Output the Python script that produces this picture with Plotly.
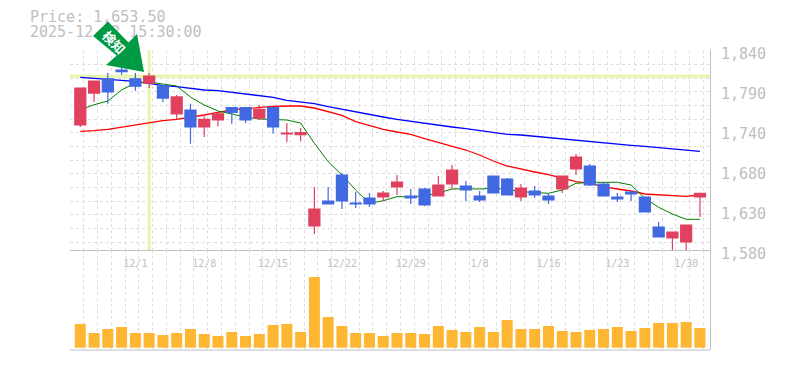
import plotly.graph_objects as go

INDEX = list(range(46))
TICK_POS = [4, 9, 14, 19, 24, 29, 34, 39, 44]
TICK_LABELS = ["12/1", "12/8", "12/15", "12/22", "12/29", "1/8", "1/16", "1/23", "1/30"]
PRICE_TICKS = [1840, 1788, 1736, 1684, 1632, 1580]
PRICE_LABELS = ["1,840", "1,790", "1,740", "1,680", "1,630", "1,580"]

OPEN = [1742.5, 1784, 1802.5, 1814, 1802.5, 1797, 1793, 1757, 1762, 1740, 1749, 1765, 1765, 1751.5, 1765, 1731,
        1730, 1611.2, 1643.7, 1677.5, 1641.1, 1647.6, 1648.9, 1661.9, 1650.2, 1659.3, 1650.2, 1665.8, 1663.2, 1650.2,
        1676.2, 1672.3, 1648.9, 1656.7, 1650.2, 1659.3, 1685.3, 1689.2, 1665.8, 1648.9, 1655.4, 1648.9, 1609.9,
        1595.6, 1590.4, 1648.9]
HIGH = [1790.6, 1799.7, 1810, 1819, 1810, 1810, 1794.5, 1781.5, 1770, 1754, 1759, 1765, 1765, 1768.5, 1765, 1745,
        1738.5, 1661.9, 1661.9, 1680.1, 1655.4, 1654.1, 1656.7, 1677.5, 1659.3, 1660.6, 1676.2, 1690.5, 1669.7, 1656.7,
        1676.2, 1673.6, 1665.8, 1663.2, 1654.1, 1676.2, 1704.8, 1691.8, 1668.4, 1654.1, 1656.7, 1648.9, 1616.4,
        1603.4, 1612.5, 1653.5]
LOW = [1739.9, 1772.4, 1770, 1807.5, 1787, 1790.5, 1772.5, 1750, 1718, 1727, 1741, 1744, 1745, 1749, 1731, 1720,
       1721.5, 1600.8, 1639.8, 1633.3, 1634.6, 1635.9, 1643.7, 1651.5, 1639.8, 1637.2, 1650.2, 1659.3, 1643.7, 1642.4,
       1654.1, 1651.5, 1643.7, 1647.6, 1639.8, 1654.1, 1677.5, 1663.2, 1650.2, 1642.4, 1643.7, 1629.4, 1596.9,
       1578.7, 1578.7, 1622.9]
CLOSE = [1790.6, 1799.7, 1785.5, 1812, 1793, 1806, 1777.5, 1779, 1740, 1750, 1757, 1759, 1749, 1763, 1740, 1732,
         1732.5, 1633.3, 1639.8, 1643.7, 1639.8, 1639.8, 1654.1, 1668.4, 1647.6, 1638.5, 1664.5, 1684, 1658, 1645,
         1654.1, 1651.5, 1660.6, 1651.5, 1645, 1676.2, 1700.9, 1664.5, 1650.2, 1646.3, 1652.8, 1629.4, 1596.9,
         1603.4, 1612.5, 1653.5]
MA_BLUE = [1804.5, 1803.2, 1801, 1800.1, 1799.3, 1796.7, 1793.6, 1792.3, 1789.7, 1788, 1787.1, 1785, 1783.2, 1781.1,
           1778.5, 1774.6, 1772.8, 1770.2, 1766.3, 1762.9, 1759.4, 1755.5, 1752.9, 1749.9, 1747.3, 1744.7, 1741.6,
           1739.9, 1737.7, 1735.1, 1733, 1730.4, 1729.5, 1727.8, 1726, 1723.9, 1723, 1721.3, 1719.5, 1717.4, 1716.1,
           1714.8, 1713, 1711.7, 1710, 1708.3]
MA_RED = [1734.3, 1735.1, 1736.9, 1739.9, 1742.1, 1746, 1748.1, 1749.9, 1752.5, 1755.5, 1759, 1762, 1763.7, 1765.5,
          1766.8, 1767.2, 1767.2, 1764.6, 1760.3, 1755.1, 1746.8, 1741.6, 1736.9, 1733.4, 1730.4, 1724.7, 1719.5,
          1714.3, 1710, 1703.5, 1695.7, 1689.2, 1684.9, 1681.4, 1677.9, 1673.2, 1668.8, 1666.7, 1662.3, 1659.3,
          1656.7, 1652.8, 1651.5, 1650.6, 1649.8, 1651.5]
MA_GREEN = [1762, 1768.9, 1773.7, 1788, 1797.1, 1798.4, 1795.8, 1793.2, 1778.9, 1768.5, 1760.7, 1756.8, 1752.9, 1750.3,
            1749.7, 1749, 1745.1, 1718.7, 1694.8, 1677.5, 1658, 1640.7, 1644.1, 1649.3, 1649.3, 1650.2, 1654.1, 1659.3,
            1659.7, 1659.3, 1660.2, 1658.9, 1655.8, 1654.5, 1653.7, 1658, 1666.7, 1668, 1668, 1668, 1664.5, 1647.2,
            1635.5, 1626.8, 1619.9, 1619.9]
VOLUME = [237, 147, 187, 207, 147, 147, 127, 147, 187, 137, 117, 157, 117, 137, 227, 237, 157, 707, 307, 217, 147, 147,
          117, 147, 147, 137, 217, 177, 157, 207, 157, 277, 187, 187, 217, 167, 157, 177, 187, 207, 167, 197, 247, 247,
          257, 197]
CURSOR = 5
INFO_LINES = ["Price: 1,653.50", "2025-12-02 15:30:00"]

W, H = 785, 370
GREY = "#c0c0c0"
GRID = "#dddddd"
CROSS = "#e5f6ab"
FONT = "DejaVu Sans Mono"
XR = [-0.748, 45.73]
YR = [1580, 1840]
dom_x = [70 / W, 710 / W]
dom_main = [1 - 250 / H, 1 - 50 / H]
dom_vol = [1 - 350 / H, 1 - 250 / H]

fig = go.Figure()
fig.add_trace(go.Scatter(x=XR, y=[CLOSE[CURSOR]] * 2, mode="lines", line=dict(color=CROSS, width=3), xaxis="x", yaxis="y"))
fig.add_trace(go.Scatter(x=[CURSOR] * 2, y=YR, mode="lines", line=dict(color=CROSS, width=3), xaxis="x", yaxis="y"))
for vals, col, wd in ((MA_BLUE, "#0000ff", 1.3), (MA_RED, "#ff0000", 1.3), (MA_GREEN, "#008000", 1.0)):
    fig.add_trace(go.Scatter(x=INDEX, y=vals, mode="lines", line=dict(color=col, width=wd), xaxis="x", yaxis="y"))
fig.add_trace(go.Bar(x=INDEX, y=VOLUME, marker=dict(color="#ffb733", line=dict(width=0)), xaxis="x", yaxis="y2"))
fig.add_trace(go.Candlestick(
    x=INDEX, open=OPEN, high=HIGH, low=LOW, close=CLOSE, xaxis="x", yaxis="y3", whiskerwidth=0,
    increasing=dict(line=dict(color="#e0415f", width=1.2), fillcolor="#e0415f"),
    decreasing=dict(line=dict(color="#4169e1", width=1.2), fillcolor="#4169e1"),
))
fig.add_trace(go.Scatter(
    x=[30, 30], y=[18, 33], text=INFO_LINES, mode="text", textposition="middle right",
    textfont=dict(family=FONT, size=15, color=GREY), xaxis="x3", yaxis="y4", cliponaxis=False,
))

fig.update_layout(
    template="none",
    width=W, height=H, margin=dict(l=0, r=0, t=0, b=0, pad=0), autosize=False,
    paper_bgcolor="white", plot_bgcolor="rgba(0,0,0,0)", showlegend=False, bargap=0.2, boxgap=0.2, boxgroupgap=0,
    xaxis=dict(
        domain=dom_x, range=XR, anchor="y", tickmode="array", tickvals=TICK_POS, ticktext=TICK_LABELS,
        tickfont=dict(family=FONT, size=10, color=GREY), ticks="", showgrid=False, zeroline=False,
        showline=True, linecolor=GREY, linewidth=1, rangeslider=dict(visible=False), ticklabelstandoff=4,
        minor=dict(tickmode="linear", tick0=-0.748, dtick=1, showgrid=True, gridcolor=GRID, gridwidth=1,
                   griddash="3px,3px", ticks=""),
    ),
    yaxis=dict(
        domain=dom_main, range=YR, anchor="x", side="right", tickmode="array", tickvals=PRICE_TICKS,
        ticktext=PRICE_LABELS, tickfont=dict(family=FONT, size=15, color=GREY), ticks="", showgrid=False,
        zeroline=False, showline=True, linecolor=GREY, linewidth=1, ticklabelstandoff=7, ticklabelshift=4,
        minor=dict(tickmode="linear", tick0=1839, dtick=17.76, showgrid=True, gridcolor=GRID, gridwidth=1,
                   griddash="3px,3px", ticks=""),
    ),
    yaxis2=dict(domain=dom_vol, range=[-23, 977], anchor="x", side="right", showticklabels=False, ticks="",
                showgrid=False, zeroline=False, showline=True, linecolor=GREY, linewidth=1),
    yaxis3=dict(domain=dom_main, range=YR, overlaying="y", anchor="x", visible=False),
    xaxis3=dict(domain=[0, 1], range=[0, W], anchor="y4", visible=False),
    yaxis4=dict(domain=[0, 1], range=[H, 0], anchor="x3", visible=False),
    shapes=[
        dict(type="line", xref="paper", x0=dom_x[0], x1=dom_x[1], yref="paper", y0=dom_vol[0], y1=dom_vol[0],
             line=dict(color=GREY, width=1)),
        dict(type="path", xref="paper", yref="paper", xsizemode="pixel", ysizemode="pixel",
             xanchor=148.3 / W, yanchor=1 - 76.3 / H,
             path="M-40.3,54.8 L-55.3,40.3 L-31.6,20.8 L-42.3,11.3 L-4.3,4.3 L-11.3,42.3 L-19.8,33.8 Z",
             fillcolor="#009944", line=dict(width=0), layer="above"),
    ],
    annotations=[
        dict(text="<b>検知</b>", xref="paper", yref="paper", x=113.5 / W, y=1 - 42 / H, showarrow=False,
             xanchor="center", yanchor="middle", textangle=45,
             font=dict(family="Noto Sans CJK JP", size=13, color="white")),
    ],
)
fig.write_html("out.html", config={"displayModeBar": False}, post_script="document.body.style.margin='0';")
